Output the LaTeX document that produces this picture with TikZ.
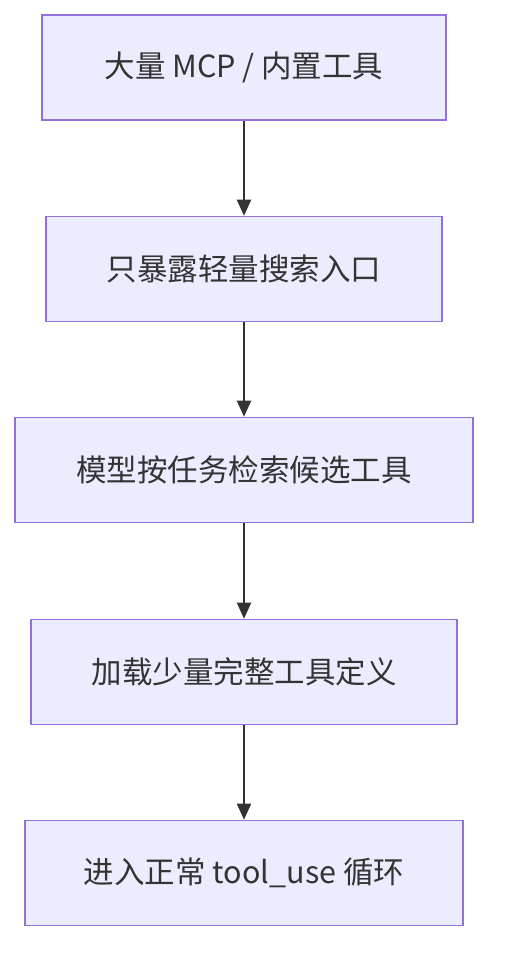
\documentclass[tikz,border=0pt]{standalone}
\usepackage{fontspec}
\setmainfont{Noto Sans CJK SC}
\usetikzlibrary{arrows.meta}
\definecolor{boxfill}{HTML}{ECECFF}
\definecolor{boxline}{HTML}{9370DB}
\definecolor{ink}{HTML}{333333}
\tikzset{
  stepbox/.style={draw=boxline, fill=boxfill, line width=1.6pt, minimum height=105pt,
    inner sep=0pt, text=ink, font=\fontsize{30.5}{34}\selectfont},
  flow/.style={draw=ink, line width=2pt, -{Triangle[length=16pt,width=14pt]}}
}
\begin{document}
\begin{tikzpicture}[x=1pt,y=-1pt]
\useasboundingbox (0,0) rectangle (504,972);
\node[stepbox, minimum width=404pt] (a) at (244,67.5) {大量 MCP / 内置工具};
\node[stepbox, minimum width=396pt] (b) at (244,269) {只暴露轻量搜索入口};
\node[stepbox, minimum width=458pt] (c) at (244,470) {模型按任务检索候选工具};
\node[stepbox, minimum width=426pt] (d) at (244,672) {加载少量完整工具定义};
\node[stepbox, minimum width=438pt] (e) at (244,873) {进入正常 tool\_use 循环};
\draw[flow] (a) -- (b);
\draw[flow] (b) -- (c);
\draw[flow] (c) -- (d);
\draw[flow] (d) -- (e);
\end{tikzpicture}
\end{document}
